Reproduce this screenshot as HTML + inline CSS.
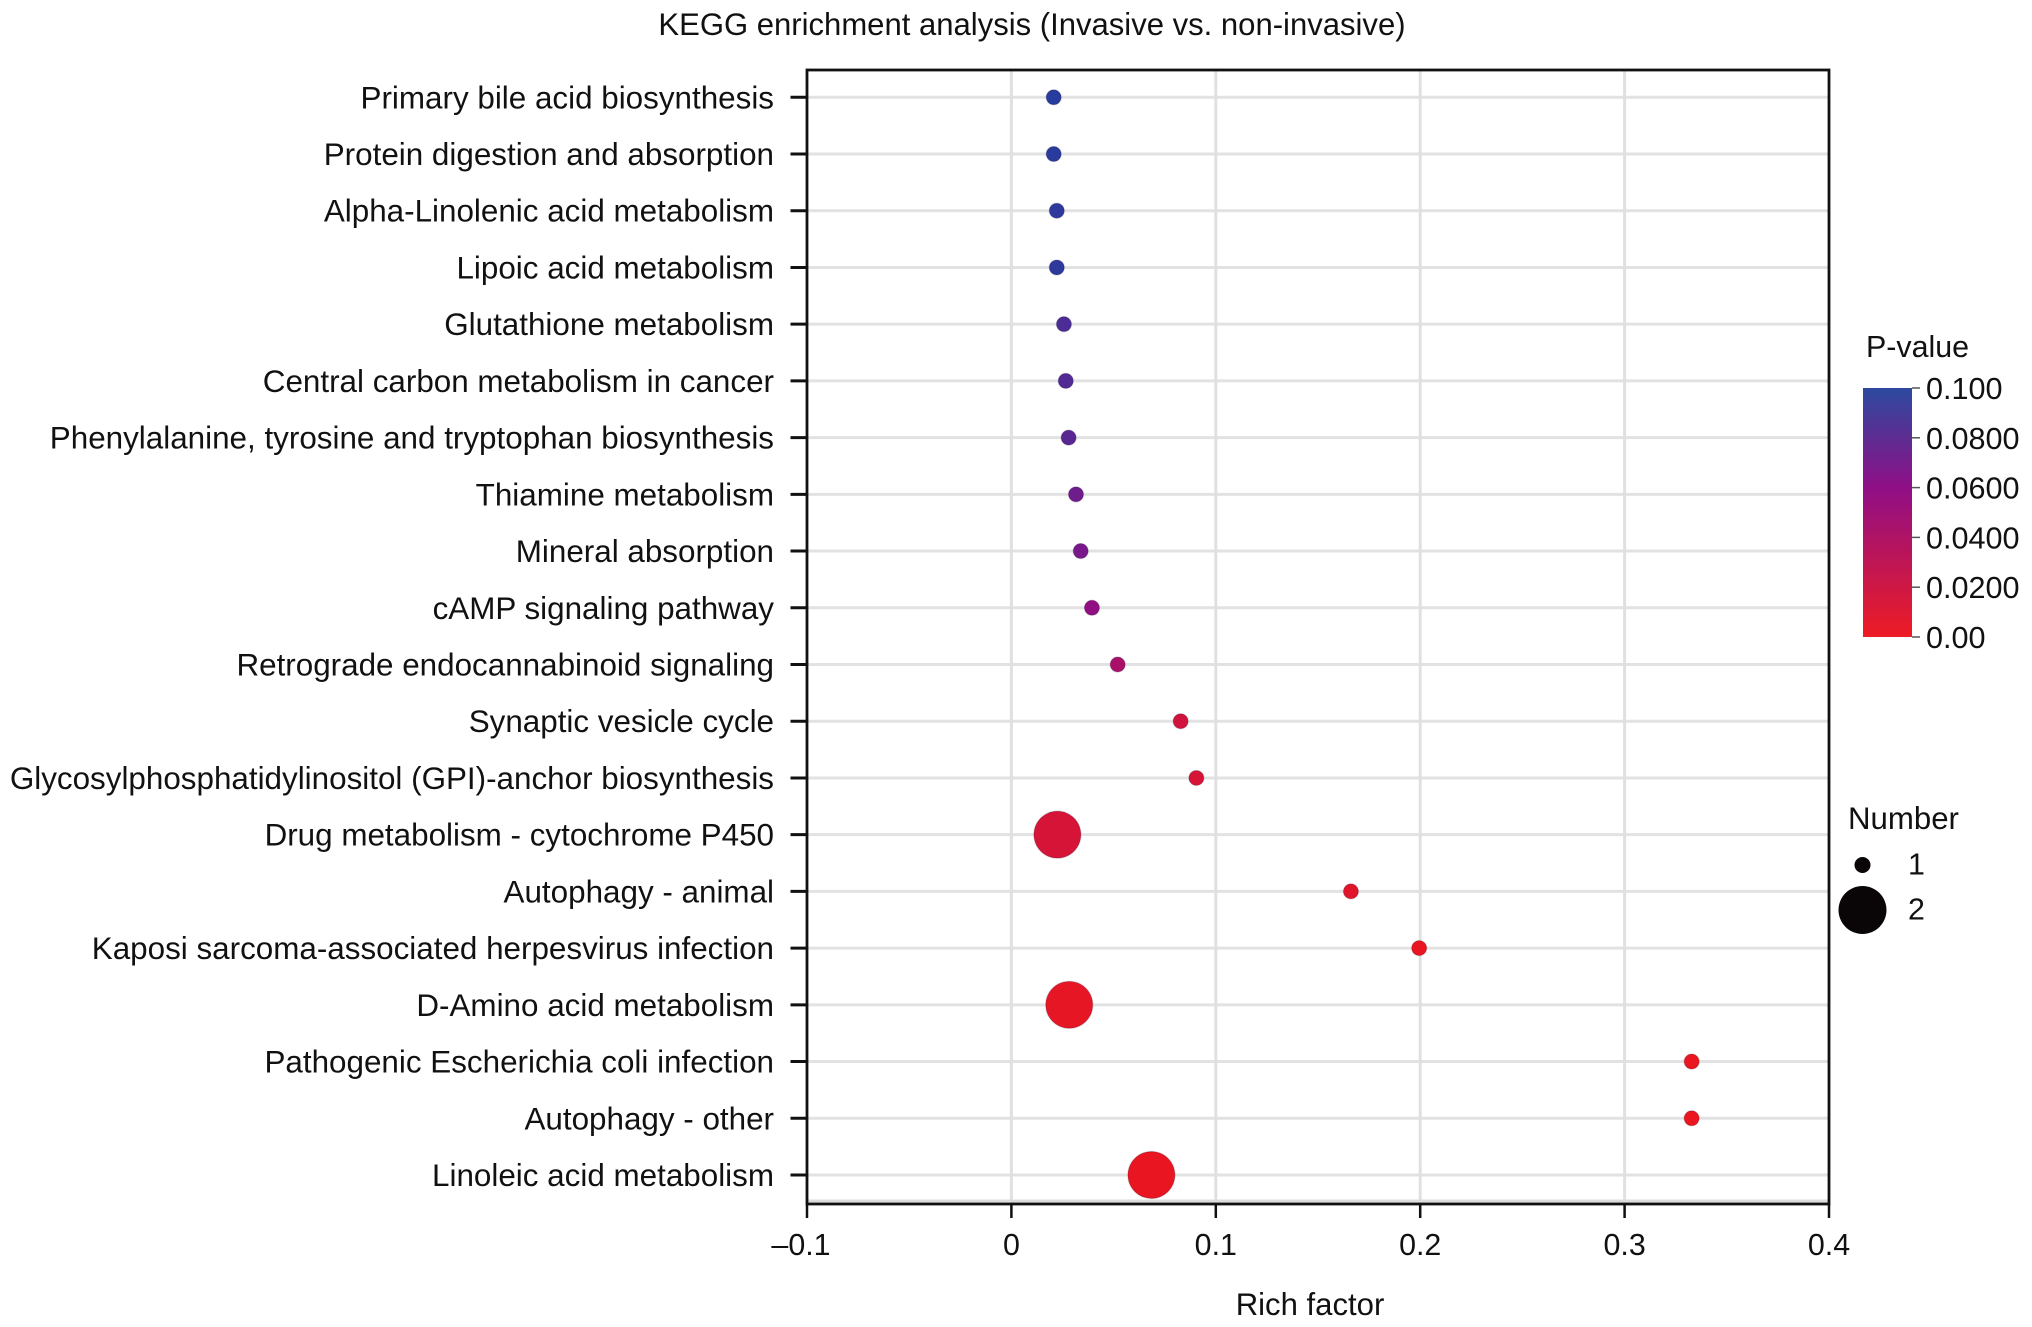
<!DOCTYPE html>
<html lang="en">
<head>
<meta charset="utf-8">
<title>KEGG enrichment analysis</title>
<style>
html,body{margin:0;padding:0;background:#fff;}
svg{display:block;font-family:"Liberation Sans",Arial,sans-serif;fill:#111;}
</style>
</head>
<body>
<svg id="chart" xmlns="http://www.w3.org/2000/svg" width="2032" height="1327" viewBox="0 0 2032 1327">
  <defs>
    <linearGradient id="pgrad" x1="0" y1="1" x2="0" y2="0">
      <stop offset="0" stop-color="#ee1c24"/>
      <stop offset="0.6" stop-color="#8f0f86"/>
      <stop offset="1" stop-color="#2c4a9f"/>
    </linearGradient>
  </defs>
  <rect x="0" y="0" width="2032" height="1327" fill="#fff"/>
  <text x="1032" y="35" font-size="31.05" text-anchor="middle">KEGG enrichment analysis (Invasive vs. non-invasive)</text>
  <text x="1310" y="1315" font-size="31.1" text-anchor="middle">Rich factor</text>
  <g id="grid"></g>
  <g id="marks"></g>
  <g id="axes"></g>
  <g id="legend-color">
    <text x="1866" y="357" font-size="30.4">P-value</text>
    <rect x="1863" y="388" width="49" height="249" fill="url(#pgrad)"/>
  </g>
  <g id="legend-size">
    <text x="1848" y="829" font-size="31.2">Number</text>
  </g>
</svg>
<script>
var pathways = ["Primary bile acid biosynthesis","Protein digestion and absorption","Alpha-Linolenic acid metabolism","Lipoic acid metabolism","Glutathione metabolism","Central carbon metabolism in cancer","Phenylalanine, tyrosine and tryptophan biosynthesis","Thiamine metabolism","Mineral absorption","cAMP signaling pathway","Retrograde endocannabinoid signaling","Synaptic vesicle cycle","Glycosylphosphatidylinositol (GPI)-anchor biosynthesis","Drug metabolism - cytochrome P450","Autophagy - animal","Kaposi sarcoma-associated herpesvirus infection","D-Amino acid metabolism","Pathogenic Escherichia coli infection","Autophagy - other","Linoleic acid metabolism"];
var richFactor = [0.0207,0.0207,0.0222,0.0222,0.0257,0.0266,0.028,0.0316,0.0339,0.0394,0.052,0.0828,0.0905,0.0225,0.1661,0.1995,0.0283,0.3328,0.3328,0.0685];
var pValue = [0.099,0.098,0.096,0.096,0.085,0.083,0.08,0.072,0.068,0.058,0.043,0.018,0.014,0.015,0.007,0.002,0.004,0.001,0.001,0.002];
var geneNumber = [1,1,1,1,1,1,1,1,1,1,1,1,1,2,1,1,2,1,1,2];
var xTicks = [-0.1,0,0.1,0.2,0.3,0.4];
var xTickLabels = ["\u20130.1","0","0.1","0.2","0.3","0.4"];
var pTicks = [0.1,0.08,0.06,0.04,0.02,0];
var pTickLabels = ["0.100","0.0800","0.0600","0.0400","0.0200","0.00"];
var sizeLegendValues = [1,2];

var NS = "http://www.w3.org/2000/svg";
var plot = {left:807,right:1829,top:70,bottom:1204,firstRow:97.3,rowStep:56.72};
function xScale(v){return plot.left+(v+0.1)/0.5*(plot.right-plot.left);}
function yScale(i){return plot.firstRow+i*plot.rowStep;}
function rScale(n){return 8+(n-1)*16;}
function pScale(p){return 637-p/0.1*249;}
function mix(a,b,t){return Math.round(a+(b-a)*t);}
function colorScale(p){
  var lo=[236,22,30],mid=[143,15,134],hi=[36,62,158],c1,c2,t;
  if(p<=0.06){c1=lo;c2=mid;t=p/0.06;}else{c1=mid;c2=hi;t=(p-0.06)/0.04;}
  t=Math.max(0,Math.min(1,t));
  return "rgb("+mix(c1[0],c2[0],t)+","+mix(c1[1],c2[1],t)+","+mix(c1[2],c2[2],t)+")";
}
function mk(tag,parent,attrs){
  var el=document.createElementNS(NS,tag);
  for(var k in attrs){el.setAttribute(k,attrs[k]);}
  parent.appendChild(el);
  return el;
}
var grid=document.getElementById("grid"),marks=document.getElementById("marks"),axes=document.getElementById("axes");
var legendColor=document.getElementById("legend-color"),legendSize=document.getElementById("legend-size");

pathways.forEach(function(name,i){
  var y=yScale(i);
  var g=mk("line",grid,{x1:plot.left,x2:plot.right,y1:y,y2:y,stroke:"#e2e2e2","stroke-width":3});
  
  
  var t=mk("line",axes,{x1:790.5,x2:plot.left,y1:y,y2:y,stroke:"#111","stroke-width":3});
  
  
  var lab=mk("text",axes,{x:774,y:y+11,"font-size":31.4,"text-anchor":"end"});
  lab.textContent=name;
  
  
});
xTicks.forEach(function(v,i){
  var x=xScale(v);
  if(i>0&&i<xTicks.length-1){
    var g=mk("line",grid,{x1:x,x2:x,y1:plot.top,y2:plot.bottom,stroke:"#e0e0e0","stroke-width":3});
    
    
  }
  var t=mk("line",axes,{x1:x,x2:x,y1:plot.bottom,y2:1218,stroke:"#111","stroke-width":2.5});
  
  
  var lab=mk("text",axes,{x:v<0?x-6:x,y:1255,"font-size":30.4,"text-anchor":"middle"});
  lab.textContent=xTickLabels[i];
  
  
});
var bottomGrid=mk("line",grid,{x1:plot.left,x2:plot.right,y1:plot.bottom-3,y2:plot.bottom-3,stroke:"#dcdcdc","stroke-width":3});



pathways.forEach(function(name,i){
  var c=mk("circle",marks,{cx:xScale(richFactor[i]),cy:yScale(i),r:rScale(geneNumber[i])-0.5,fill:colorScale(pValue[i]),stroke:"rgba(20,0,40,0.18)","stroke-width":1.2});
  
  
});

var frame=mk("rect",axes,{x:plot.left,y:plot.top,width:plot.right-plot.left,height:plot.bottom-plot.top,fill:"none",stroke:"#111","stroke-width":2.8});



pTicks.forEach(function(p,i){
  var y=pScale(p);
  var t=mk("line",legendColor,{x1:1912,x2:1920,y1:y,y2:y,stroke:"#555","stroke-width":1.5});
  
  
  var lab=mk("text",legendColor,{x:1926,y:y+11,"font-size":30.6});
  lab.textContent=pTickLabels[i];
  
  
});
sizeLegendValues.forEach(function(n,i){
  var y=865+i*45;
  var c=mk("circle",legendSize,{cx:1862.5,cy:y,r:rScale(n),fill:"#0a0608"});
  
  
  var lab=mk("text",legendSize,{x:1908,y:y+9.5,"font-size":30.4});
  lab.textContent=String(n);
  
  
});
</script>
</body>
</html>
